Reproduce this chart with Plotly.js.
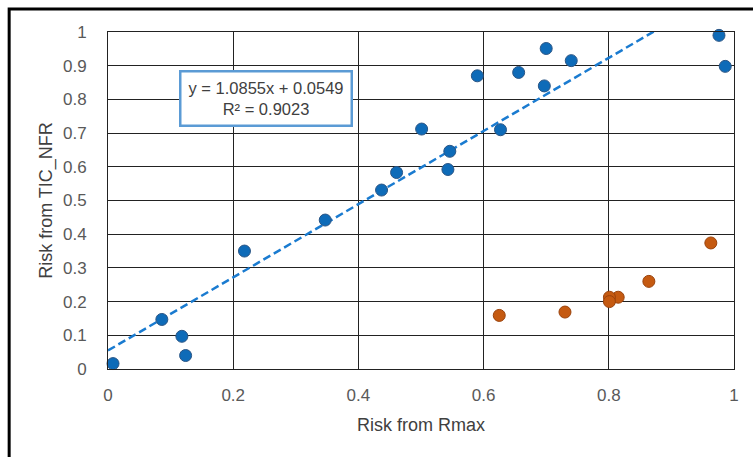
<!DOCTYPE html>
<html><head><meta charset="utf-8">
<script src="https://cdn.plot.ly/plotly-3.0.1.min.js"></script>
<style>html,body{margin:0;padding:0;background:#fff;}#chart{width:753px;height:457px;}</style>
</head><body><div id="chart"></div>
<script>
// Blue series (points in the fit)
const blueX = [0.976, 0.986, 0.700, 0.740, 0.656, 0.590, 0.697, 0.501, 0.627, 0.546, 0.543, 0.461, 0.437, 0.347, 0.218, 0.086, 0.118, 0.124, 0.008];
const blueY = [0.990, 0.898, 0.951, 0.915, 0.880, 0.870, 0.840, 0.712, 0.710, 0.646, 0.592, 0.583, 0.531, 0.442, 0.350, 0.147, 0.097, 0.040, 0.016];
// Orange series
const orangeX = [0.963, 0.864, 0.815, 0.801, 0.801, 0.730, 0.625];
const orangeY = [0.374, 0.260, 0.213, 0.213, 0.200, 0.169, 0.159];
// Linear trendline shown on the chart
const slope = 1.0855, intercept = 0.0549;
const trendX = [0, 1];
const trendY = trendX.map(x => slope * x + intercept);
const xTicks = [0, 0.2, 0.4, 0.6, 0.8, 1];
const xTickText = ['0', '0.2', '0.4', '0.6', '0.8', '1'];
const yTicks = [0, 0.1, 0.2, 0.3, 0.4, 0.5, 0.6, 0.7, 0.8, 0.9, 1];
const yTickText = ['0', '0.1', '0.2', '0.3', '0.4', '0.5', '0.6', '0.7', '0.8', '0.9', '1'];

const font = "Liberation Sans, Arial, sans-serif";
const traces = [
  {x: trendX, y: trendY, mode: 'lines', line: {color: '#1a7bd0', width: 2.5, dash: '8px,4px'}, hoverinfo: 'skip', cliponaxis: true},
  {x: blueX, y: blueY, mode: 'markers', marker: {size: 12, color: '#0e6bb8', line: {color: '#2a5585', width: 1}}, cliponaxis: false},
  {x: orangeX, y: orangeY, mode: 'markers', marker: {size: 12, color: '#c55a11', line: {color: '#9a420b', width: 1}}, cliponaxis: false}
];
const layout = {
  width: 753, height: 457,
  margin: {l: 107.5, r: 18.5, t: 31.7, b: 87.7, pad: 0},
  paper_bgcolor: '#fff', plot_bgcolor: '#fff',
  showlegend: false,
  font: {family: font, color: '#595959', size: 17},
  xaxis: {range: [0, 1], tickvals: xTicks, ticktext: xTickText, showgrid: true, gridcolor: '#222', gridwidth: 1,
    zeroline: false, showline: true, linecolor: '#222', linewidth: 1, mirror: true, ticks: '', ticklabelstandoff: 11,
    tickfont: {family: font, size: 17, color: '#595959'},
    title: {text: 'Risk from Rmax', font: {family: font, size: 18, color: '#404040'}, standoff: 13}},
  yaxis: {range: [0, 1], tickvals: yTicks, ticktext: yTickText, showgrid: true, gridcolor: '#222', gridwidth: 1,
    zeroline: false, showline: true, linecolor: '#222', linewidth: 1, mirror: true, ticks: '', ticklabelstandoff: 17,
    tickfont: {family: font, size: 17, color: '#595959'},
    title: {text: 'Risk from TIC_NFR', font: {family: font, size: 18, color: '#404040'}, standoff: 5}},
  shapes: [
    {type: 'rect', xref: 'paper', yref: 'paper', x0: (8.5 - 107.5) / 627, x1: 1.2, y0: -0.5, y1: (369.3 - 8.5) / 337.7,
      line: {color: '#000', width: 3}, fillcolor: 'rgba(0,0,0,0)', layer: 'below'}
  ],
  annotations: [
    {xref: 'paper', yref: 'paper', x: (265.5 - 107.5) / 627, y: (369.3 - 98) / 337.7, xanchor: 'center', yanchor: 'middle',
      text: 'y = 1.0855x + 0.0549<br>R² = 0.9023', showarrow: false, align: 'center',
      font: {family: font, size: 16.5, color: '#404040'}, bgcolor: '#fff', bordercolor: '#5b9bd5', borderwidth: 2.5, borderpad: 3,
      width: 163, height: 46}
  ]
};
Plotly.newPlot('chart', traces, layout, {displayModeBar: false, staticPlot: true});
</script></body></html>
